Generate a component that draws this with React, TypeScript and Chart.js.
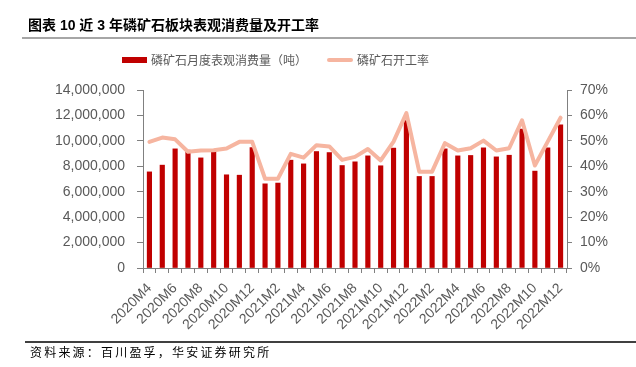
import React, { useEffect, useRef } from "react";
import { Chart, registerables } from "chart.js";

Chart.register(...registerables);

const categories = [
  "2020M4", "2020M5", "2020M6", "2020M7", "2020M8", "2020M9", "2020M10", "2020M11", "2020M12",
  "2021M1", "2021M2", "2021M3", "2021M4", "2021M5", "2021M6", "2021M7", "2021M8", "2021M9",
  "2021M10", "2021M11", "2021M12",
  "2022M1", "2022M2", "2022M3", "2022M4", "2022M5", "2022M6", "2022M7", "2022M8", "2022M9",
  "2022M10", "2022M11", "2022M12",
];

const consumption = [
  7560000, 8090000, 9370000, 9270000, 8660000, 9190000, 7330000, 7300000, 9470000,
  6620000, 6680000, 8480000, 8190000, 9160000, 9080000, 8060000, 8350000, 8820000,
  8040000, 9430000, 11600000,
  7200000, 7200000, 9370000, 8820000, 8850000, 9450000, 8740000, 8870000, 10920000,
  7620000, 9450000, 11260000,
];

const utilization = [
  49.6, 51.3, 50.6, 45.7, 46.2, 46.3, 47.0, 49.6, 49.6,
  35.1, 35.1, 44.9, 43.4, 48.3, 47.8, 42.5, 43.7, 46.8,
  42.3, 49.7, 60.9,
  37.9, 37.9, 49.1, 46.2, 47.1, 50.1, 46.2, 47.1, 58.1,
  40.3, 49.7, 59.1,
];

const leftTicks = [0, 2000000, 4000000, 6000000, 8000000, 10000000, 12000000, 14000000];
const rightTicks = [0, 10, 20, 30, 40, 50, 60, 70];

const BAR_COLOR = "#C00000";
const LINE_COLOR = "#F6B5A0";
const TEXT_COLOR = "#595959";
const AXIS_COLOR = "#808080";

export default function App() {
  const ref = useRef<HTMLCanvasElement | null>(null);

  useEffect(() => {
    if (!ref.current) return;
    const font = { family: "'Liberation Sans', Arial, sans-serif", size: 14 };
    const chart = new Chart(ref.current, {
      type: "bar",
      data: {
        labels: categories,
        datasets: [
          {
            type: "line",
            label: "磷矿石开工率",
            data: utilization,
            borderColor: LINE_COLOR,
            backgroundColor: LINE_COLOR,
            borderWidth: 4,
            pointRadius: 0,
            tension: 0,
            borderJoinStyle: "round",
            borderCapStyle: "round",
            yAxisID: "y1",
            order: 0,
          } as any,
          {
            type: "bar",
            label: "磷矿石月度表观消费量（吨）",
            data: consumption,
            backgroundColor: BAR_COLOR,
            barThickness: 4.5,
            yAxisID: "y",
            order: 1,
          },
        ],
      },
      options: {
        responsive: false,
        animation: false,
        devicePixelRatio: 1,
        layout: { padding: { top: 90, left: 0, right: 0, bottom: 0 } },
        plugins: {
          legend: { display: false },
          tooltip: { enabled: false },
          title: { display: false },
        },
        scales: {
          x: {
            offset: true,
            grid: {
              display: true,
              offset: true,
              drawOnChartArea: false,
              drawTicks: true,
              tickLength: 5,
              color: AXIS_COLOR,
            },
            border: { display: true, color: AXIS_COLOR, width: 1 },
            ticks: {
              autoSkip: false,
              minRotation: 45,
              maxRotation: 45,
              padding: 7,
              color: TEXT_COLOR,
              font,
              callback: (_v: any, i: number) => (i % 2 === 0 ? categories[i] : ""),
            },
            afterFit: (s: any) => {
              s.height = 99;
            },
          },
          y: {
            position: "left",
            min: leftTicks[0],
            max: leftTicks[leftTicks.length - 1],
            afterBuildTicks: (s: any) => {
              s.ticks = leftTicks.map((v) => ({ value: v }));
            },
            grid: {
              drawOnChartArea: false,
              drawTicks: true,
              tickLength: 6,
              color: AXIS_COLOR,
            },
            border: { display: true, color: AXIS_COLOR, width: 1 },
            ticks: {
              padding: 12,
              color: TEXT_COLOR,
              font,
              callback: (v: any) => Number(v).toLocaleString("en-US"),
            },
            afterFit: (s: any) => {
              s.width = 143;
            },
          },
          y1: {
            position: "right",
            min: rightTicks[0],
            max: rightTicks[rightTicks.length - 1],
            afterBuildTicks: (s: any) => {
              s.ticks = rightTicks.map((v) => ({ value: v }));
            },
            grid: {
              drawOnChartArea: false,
              drawTicks: true,
              tickLength: 5,
              color: AXIS_COLOR,
            },
            border: { display: true, color: AXIS_COLOR, width: 1 },
            ticks: {
              padding: 8,
              color: TEXT_COLOR,
              font,
              callback: (v: any) => `${v}%`,
            },
            afterFit: (s: any) => {
              s.width = 69;
            },
          },
        },
      },
    });
    return () => chart.destroy();
  }, []);

  const cjk = "'Noto Sans CJK SC', sans-serif";

  return (
    <div
      style={{
        position: "fixed",
        left: 0,
        top: 0,
        width: 636,
        height: 367,
        background: "#fff",
        overflow: "hidden",
      }}
    >
      <canvas ref={ref} width={636} height={367} style={{ position: "absolute", left: 0, top: 0 }} />
      <div
        style={{
          position: "absolute",
          left: 28,
          top: 16,
          fontFamily: "'Liberation Sans', " + cjk,
          fontWeight: "bold",
          fontSize: 14,
          lineHeight: "18px",
          color: "#000",
          whiteSpace: "nowrap",
        }}
      >
        图表 10 近 3 年磷矿石板块表观消费量及开工率
      </div>
      <div style={{ position: "absolute", left: 22, top: 37, width: 614, height: 2, background: "#A6A6A6" }} />
      <div style={{ position: "absolute", left: 122, top: 57, width: 25, height: 6, background: BAR_COLOR }} />
      <div
        style={{
          position: "absolute",
          left: 151,
          top: 52,
          fontFamily: cjk,
          fontSize: 12,
          lineHeight: "16px",
          color: TEXT_COLOR,
          whiteSpace: "nowrap",
        }}
      >
        磷矿石月度表观消费量（吨）
      </div>
      <div
        style={{
          position: "absolute",
          left: 327,
          top: 58,
          width: 26,
          height: 4,
          borderRadius: 2,
          background: LINE_COLOR,
        }}
      />
      <div
        style={{
          position: "absolute",
          left: 357,
          top: 52,
          fontFamily: cjk,
          fontSize: 12,
          lineHeight: "16px",
          color: TEXT_COLOR,
          whiteSpace: "nowrap",
        }}
      >
        磷矿石开工率
      </div>
      <div style={{ position: "absolute", left: 25, top: 341, width: 611, height: 1.5, background: "#404040" }} />
      <div
        style={{
          position: "absolute",
          left: 30,
          top: 344,
          fontFamily: cjk,
          fontSize: 12,
          letterSpacing: "2.2px",
          lineHeight: "16px",
          color: "#000",
          whiteSpace: "nowrap",
        }}
      >
        资料来源：百川盈孚，华安证券研究所
      </div>
    </div>
  );
}
